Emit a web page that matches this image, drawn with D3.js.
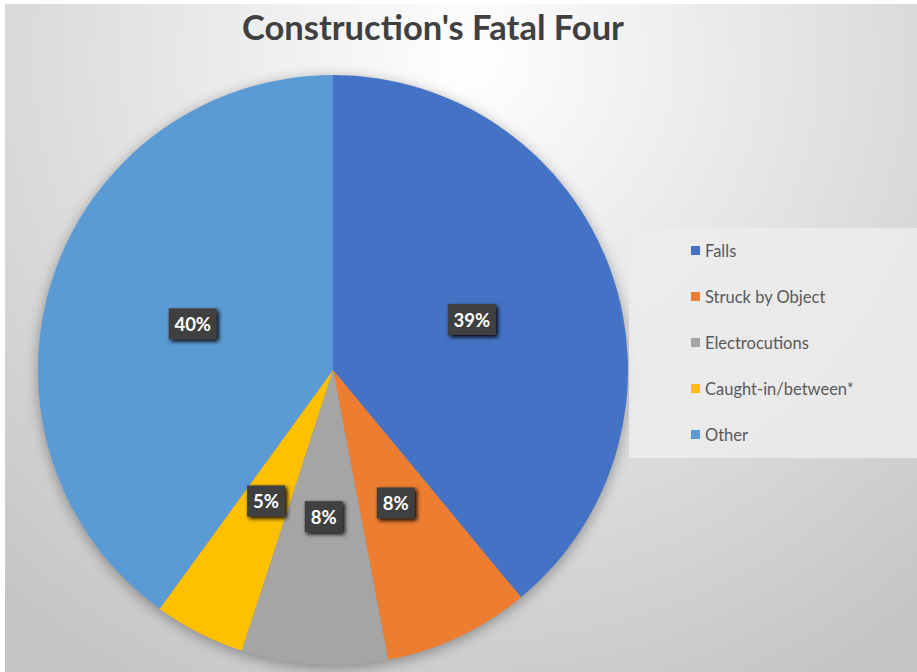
<!DOCTYPE html>
<html>
<head>
<meta charset="utf-8">
<script src="https://cdn.jsdelivr.net/npm/d3@7"></script>
<style>
  body { margin: 0; background: #fff; }
  svg { display: block; }
</style>
</head>
<body>
<div id="chart"></div>
<script>
// chart data
var categories = ["Falls", "Struck by Object", "Electrocutions", "Caught-in/between*", "Other"];
var values = [39, 8, 8, 5, 40];
var colors = ["#4472C4", "#ED7D31", "#A5A5A5", "#FFC000", "#5B9BD5"];
var title = "Construction's Fatal Four";

var width = 917, height = 672;
var cx = 333, cy = 370, radius = 295;

var svg = d3.select("#chart").append("svg")
    .attr("width", width)
    .attr("height", height);

var defs = svg.append("defs");

// background gradient
var bg = defs.append("radialGradient")
    .attr("id", "bg")
    .attr("gradientUnits", "userSpaceOnUse")
    .attr("cx", 470).attr("cy", 60).attr("r", 720);
bg.append("stop").attr("offset", "0%").attr("stop-color", "#ffffff");
bg.append("stop").attr("offset", "100%").attr("stop-color", "#c4c4c4");

var shadow = defs.append("filter").attr("id", "pieShadow")
    .attr("x", "-20%").attr("y", "-20%").attr("width", "140%").attr("height", "140%");
shadow.append("feGaussianBlur").attr("in", "SourceAlpha").attr("stdDeviation", 7);
shadow.append("feOffset").attr("dx", 0).attr("dy", 3).attr("result", "b");
shadow.append("feComponentTransfer").append("feFuncA").attr("type", "linear").attr("slope", 0.35);

var lblShadow = defs.append("filter").attr("id", "lblShadow")
    .attr("x", "-30%").attr("y", "-30%").attr("width", "170%").attr("height", "170%");
lblShadow.append("feGaussianBlur").attr("in", "SourceAlpha").attr("stdDeviation", 2);
lblShadow.append("feOffset").attr("dx", 2).attr("dy", 2).attr("result", "o");
var lm = lblShadow.append("feMerge");
lm.append("feMergeNode").attr("in", "o");
lm.append("feMergeNode").attr("in", "SourceGraphic");

svg.append("rect")
    .attr("x", 5).attr("y", 4)
    .attr("width", width - 5).attr("height", height - 4)
    .attr("fill", "url(#bg)");

// title
svg.append("text")
    .attr("x", 433)
    .attr("y", 40)
    .attr("text-anchor", "middle")
    .style("font-family", "Lato, 'Open Sans', sans-serif")
    .style("font-weight", "bold")
    .style("font-size", "34.5px")
    .style("fill", "#404040")
    .text(title);

// pie
var pie = d3.pie().sort(null).value(function (d) { return d; });
var arcs = pie(values);
var arc = d3.arc().innerRadius(0).outerRadius(radius);
var labelArc = d3.arc().innerRadius(radius * 0.5).outerRadius(radius * 0.5);

var g = svg.append("g").attr("transform", "translate(" + cx + "," + cy + ")");

g.append("circle")
    .attr("r", radius)
    .attr("fill", "#000")
    .attr("filter", "url(#pieShadow)");

g.selectAll("path.slice")
    .data(arcs)
    .enter().append("path")
    .attr("class", "slice")
    .attr("d", arc)
    .attr("fill", function (d, i) { return colors[i]; });

var total = d3.sum(values);
var labels = g.selectAll("g.lbl")
    .data(arcs)
    .enter().append("g")
    .attr("class", "lbl")
    .attr("transform", function (d) {
        var c = labelArc.centroid(d);
        return "translate(" + c[0] + "," + c[1] + ")";
    });

labels.each(function (d) {
    var sel = d3.select(this);
    var txt = Math.round(d.value / total * 100) + "%";
    var w = txt.length > 2 ? 48 : 38;
    sel.append("rect")
        .attr("x", -w / 2).attr("y", -16)
        .attr("width", w).attr("height", 31)
        .attr("fill", "#404040")
        .attr("filter", "url(#lblShadow)");
    sel.append("text")
        .attr("text-anchor", "middle")
        .attr("dy", "0.36em")
        .style("font-family", "Lato, 'Open Sans', sans-serif")
        .style("font-weight", "bold")
        .style("font-size", "18.5px")
        .style("fill", "#ffffff")
        .text(txt);
});

// legend
var legend = svg.append("g");
legend.append("rect")
    .attr("x", 629).attr("y", 228)
    .attr("width", 288).attr("height", 230)
    .attr("fill", "#ececec")
    .attr("opacity", 0.85);

var ly = d3.scalePoint().domain(categories).range([251, 435]);

var items = legend.selectAll("g.item")
    .data(categories)
    .enter().append("g")
    .attr("class", "item")
    .attr("transform", function (d) { return "translate(691," + ly(d) + ")"; });

items.append("rect")
    .attr("x", 0).attr("y", -5)
    .attr("width", 9).attr("height", 9)
    .attr("fill", function (d, i) { return colors[i]; });

items.append("text")
    .attr("x", 14)
    .attr("dy", "0.35em")
    .style("font-family", "Lato, 'Open Sans', sans-serif")
    .style("font-size", "16.5px")
    .style("fill", "#595959")
    .text(function (d) { return d; });
</script>
</body>
</html>
